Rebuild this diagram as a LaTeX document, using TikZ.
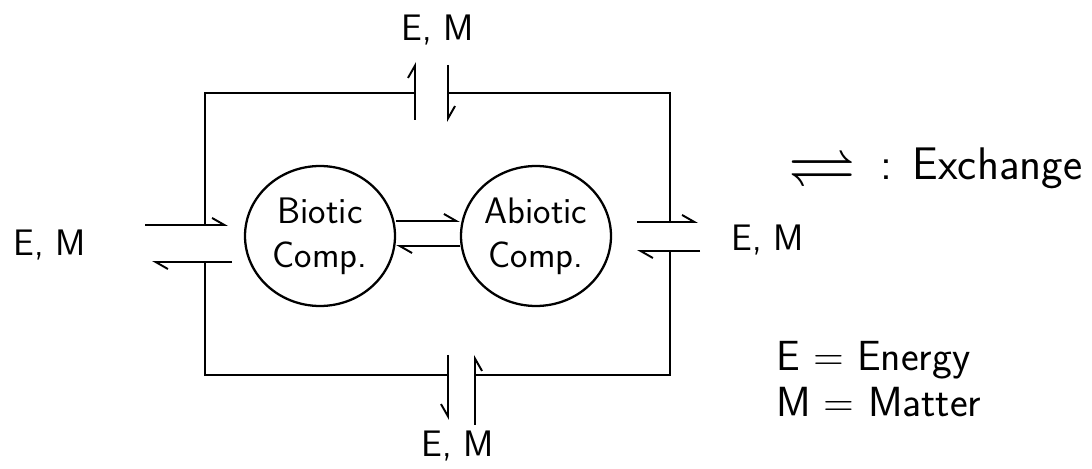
\documentclass[tikz,border=0pt]{standalone}
\usepackage{amsmath}
\usepackage{amssymb}
\usepackage{tikz}
\usetikzlibrary{arrows.meta, positioning, calc, shapes.geometric}

\begin{document}
\begin{tikzpicture}[x=0.02cm, y=-0.02cm,
  comp/.style={ellipse, draw=black, line width=1.3pt,
               minimum width=3cm, minimum height=2.8cm, inner sep=0pt,
               align=center, font=\sffamily\fontsize{21}{25}\selectfont},
  lbl/.style={font=\sffamily\fontsize{21}{25}\selectfont},
  lgd/.style={font=\sffamily\fontsize{24}{28}\selectfont, anchor=west},
  wall/.style={line width=1.1pt, black},
  xarr/.style={-{Straight Barb[left, length=7pt, width=8pt]}, line width=1.1pt, black},
  yarr/.style={-{Straight Barb[right, length=7pt, width=8pt]}, line width=1.1pt, black}
]
\useasboundingbox (0,0) rectangle (1092,469);
%% components
\node[comp] (biotic)  at (320,236) {Biotic\\Comp.};
\node[comp] (abiotic) at (536,236) {Abiotic\\Comp.};
\draw[xarr] ([yshift=0.3cm]biotic.east) -- ([yshift=0.3cm]abiotic.west);
\draw[xarr] ([yshift=-0.2cm]abiotic.west) -- ([yshift=-0.2cm]biotic.east);
%% system boundary with openings
\coordinate (nw)  at (205,93);
\coordinate (ne)  at (670,93);
\coordinate (sw)  at (205,375);
\coordinate (se)  at (670,375);
\coordinate (tg1) at (415,93);
\coordinate (tg2) at (448,93);
\coordinate (bg1) at (448,375);
\coordinate (bg2) at (475,375);
\coordinate (lg1) at (205,225);
\coordinate (lg2) at (205,262);
\coordinate (rg1) at (670,222);
\coordinate (rg2) at (670,251);
\draw[wall] (tg1) -- (nw) -- (lg1);
\draw[wall] (lg2) -- (sw) -- (bg1);
\draw[wall] (bg2) -- (se) -- (rg2);
\draw[wall] (rg1) -- (ne) -- (tg2);
%% exchange with surroundings
\node[lbl] (emleft)  at (50,245)  {E, M};
\node[lbl] (emtop)   at (438,30)  {E, M};
\node[lbl] (embot)   at (458,446) {E, M};
\node[lbl] (emright) at (768,240) {E, M};
\draw[xarr] ($(lg1)+(-60,0)$) -- ($(lg1)+(23,0)$);
\draw[xarr] ($(lg2)+(27,0)$) -- ($(lg2)+(-53,0)$);
\draw[xarr] ($(rg1)+(-33,0)$) -- ($(rg1)+(28,0)$);
\draw[xarr] ($(rg2)+(30,0)$) -- ($(rg2)+(-33,0)$);
\draw[xarr] ($(tg1)+(0,27)$) -- ($(tg1)+(0,-31)$);
\draw[xarr] ($(tg2)+(0,-28)$) -- ($(tg2)+(0,29)$);
\draw[yarr] ($(bg1)+(0,-20)$) -- ($(bg1)+(0,45)$);
\draw[yarr] ($(bg2)+(0,50)$) -- ($(bg2)+(0,-20)$);
%% legend
\node[lgd, anchor=center, inner sep=1pt] (xsym) at (822,168) {\scalebox{1.6}{$\rightleftharpoons$}};
\node[lgd, font=\sffamily\fontsize{26}{30}\selectfont, right=0.45cm of xsym.east, anchor=west, inner sep=0pt] (xlbl) {:\hspace{0.4cm}Exchange};
\node[lgd] (energy) at (770,360) {E = Energy};
\node[lgd] (matter) at (770,402) {M = Matter};
\end{tikzpicture}
\end{document}
